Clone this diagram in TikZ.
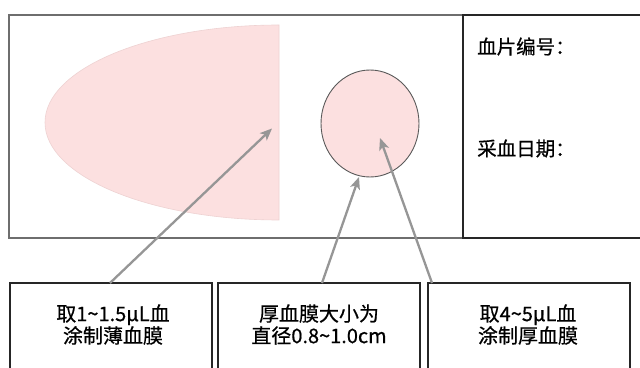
\documentclass[tikz,border=0pt]{standalone}
\usepackage{fontspec}
\newfontfamily\cjk[FakeBold=0.7]{Noto Sans CJK SC}
\usetikzlibrary{arrows.meta}
\definecolor{smear}{RGB}{252,224,224}
\definecolor{smearedge}{RGB}{238,210,210}
\definecolor{arrowgray}{RGB}{150,150,150}
\definecolor{framegray}{RGB}{110,110,110}
\newcommand{\tld}{\char126\relax}
\tikzset{
  smearbox/.style={draw=black!85, line width=1.1pt, minimum width=202pt, minimum height=94pt, inner sep=0pt},
  boxtext/.style={inner sep=0pt, align=center, font=\fontsize{20pt}{22pt}\selectfont\cjk},
  slidelabel/.style={anchor=west, inner sep=0pt, font=\fontsize{19.5pt}{22pt}\selectfont\cjk},
  pointer/.style={draw=arrowgray, line width=2.3pt, -{Stealth[length=12pt,width=10pt,inset=3pt]}},
}
\begin{document}
\begin{tikzpicture}[x=1pt,y=1pt]
\useasboundingbox (0,0) rectangle (640,367);
\fill[white] (0,0) rectangle (640,367);
% slide
\draw[framegray, line width=1.2pt] (9,352) rectangle (463,129);
\draw[black!85, line width=1.2pt] (463,352) rectangle (642,129);
% thin smear
\fill[smear, draw=smearedge, line width=0.6pt] (279,342) arc[start angle=90,end angle=270,x radius=234,y radius=97.5] -- cycle;
% thick smear
\draw[fill=smear, draw=black!65, line width=0.9pt] (370,243.5) ellipse[x radius=49, y radius=53.5];
% labels on the slide
\node[slidelabel] (num) at (477,320.5) {血片编号：};
\node[slidelabel] (date) at (477,218.5) {采血日期：};
% boxes
\node[smearbox] (b1) at (111,37) {};
\node[smearbox] (b2) at (319,37) {};
\node[smearbox] (b3) at (529,37) {};
\node[boxtext] (b1t) at ([xshift=2pt,yshift=5.5pt]b1.center) {取1\tld1.5μL血\\涂制薄血膜};
\node[boxtext] (b2t) at ([yshift=5.5pt]b2.center) {厚血膜大小为\\直径0.8\tld1.0cm};
\node[boxtext] (b3t) at ([xshift=-1pt,yshift=5.5pt]b3.center) {取4\tld5μL血\\涂制厚血膜};
% arrow ends
\coordinate (s1) at (110,84);
\coordinate (t1) at (272,238.5);
\coordinate (s2) at (322,84);
\coordinate (t2) at (359,190);
\coordinate (s3) at (432,84);
\coordinate (t3) at (380,229);
\draw[pointer] (s1) -- (t1);
\draw[pointer] (s2) -- (t2);
\draw[pointer] (s3) -- (t3);
\end{tikzpicture}
\end{document}
